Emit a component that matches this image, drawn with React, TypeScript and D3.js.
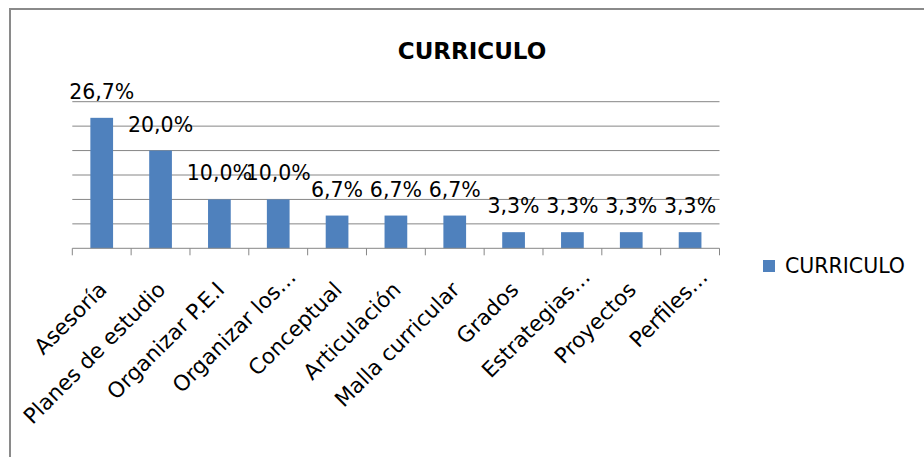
import React from "react";
import * as d3 from "d3";

const categories = [
  "Asesoría",
  "Planes de estudio",
  "Organizar P.E.I",
  "Organizar los…",
  "Conceptual",
  "Articulación",
  "Malla curricular",
  "Grados",
  "Estrategias…",
  "Proyectos",
  "Perfiles…",
];
const values = [0.267, 0.2, 0.1, 0.1, 0.067, 0.067, 0.067, 0.033, 0.033, 0.033, 0.033];
const valueLabels = ["26,7%", "20,0%", "10,0%", "10,0%", "6,7%", "6,7%", "6,7%", "3,3%", "3,3%", "3,3%", "3,3%"];
const gridTicks = [0.05, 0.1, 0.15, 0.2, 0.25, 0.3];
const seriesName = "CURRICULO";
const title = "CURRICULO";

const W = 924;
const H = 457;
const FONT = "'DejaVu Sans', sans-serif";
const BAR = "#4F81BD";
const GRID = "#868686";

export default function App() {
  const left = 72.3;
  const right = 719.5;
  const top = 101.7;
  const bottom = 248.3;

  const x = d3.scaleBand<string>().domain(categories).range([left, right]).padding(0);
  const y = d3.scaleLinear().domain([0, 0.3]).range([bottom, top]);
  const step = x.step();
  const bw = step * 0.386;

  const boundaries = d3.range(categories.length + 1).map((i) => left + i * step);

  return (
    <svg
      width={W}
      height={H}
      style={{ position: "absolute", left: 0, top: 0, background: "#fff" }}
      fontFamily={FONT}
    >
      <rect x={0} y={0} width={W} height={H} fill="#fff" />
      <rect x={10} y={9} width={W + 20} height={H + 20} fill="none" stroke="#8a8a8a" strokeWidth={2} />

      <text x={472} y={59} textAnchor="middle" fontSize={23} fontWeight="bold" fill="#000">
        {title}
      </text>

      {gridTicks.map((t) => (
        <line key={t} x1={left} x2={right} y1={y(t)} y2={y(t)} stroke={GRID} strokeWidth={1} />
      ))}

      {categories.map((c, i) => {
        const cx = (x(c) as number) + step / 2;
        return (
          <rect
            key={c}
            x={cx - bw / 2}
            y={y(values[i])}
            width={bw}
            height={bottom - y(values[i])}
            fill={BAR}
          />
        );
      })}

      <line x1={left} x2={right} y1={bottom} y2={bottom} stroke={GRID} strokeWidth={1} />
      {boundaries.map((bx, i) => (
        <line key={i} x1={bx} x2={bx} y1={bottom} y2={bottom + 7} stroke={GRID} strokeWidth={1} />
      ))}

      {categories.map((c, i) => {
        const cx = (x(c) as number) + step / 2;
        return (
          <text key={c} x={cx} y={y(values[i]) - 19} textAnchor="middle" fontSize={20.5} fill="#000">
            {valueLabels[i]}
          </text>
        );
      })}

      {categories.map((c) => {
        const cx = (x(c) as number) + step / 2;
        const truncated = c.endsWith("…");
        return (
          <text
            key={c}
            transform={`translate(${cx + 19},${bottom + 30}) rotate(-45)`}
            textAnchor="end"
            dx={truncated ? 0 : -18}
            fontSize={21.5}
            fill="#000"
          >
            {c}
          </text>
        );
      })}

      <rect x={763} y={260} width={12} height={12} fill={BAR} />
      <text x={785} y={273} fontSize={20.5} fill="#000">
        {seriesName}
      </text>
    </svg>
  );
}
